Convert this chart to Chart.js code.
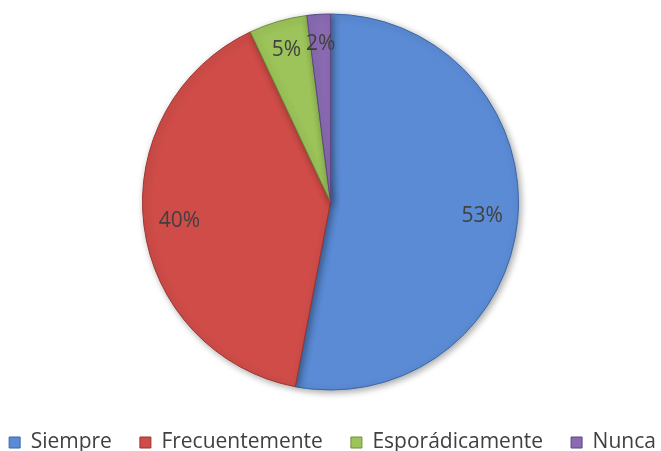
<!DOCTYPE html>
<html lang="es">
<head>
  <meta charset="UTF-8" />
  <title>Frecuencia</title>
  <script src="https://cdn.jsdelivr.net/npm/chart.js"></script>
  <style>
    html, body { margin: 0; padding: 0; background: #fff; }
    #wrap { width: 661px; height: 451px; }
  </style>
</head>
<body>
  <div id="wrap"><canvas id="pieChart"></canvas></div>

  <script>
    // chart data
    const categories = ['Siempre', 'Frecuentemente', 'Esporádicamente', 'Nunca'];
    const values = [53, 40, 5, 2];
    const sliceColors = ['#5b8bd5', '#cf4c48', '#9cc45a', '#8a6bb3'];
    const edgeColors = ['#3a67a6', '#9c3431', '#6e8f3a', '#5e4683'];

    // percentage labels inside slices
    const sliceLabels = {
      id: 'sliceLabels',
      afterDatasetsDraw(chart) {
        const ctx = chart.ctx;
        const meta = chart.getDatasetMeta(0);
        const total = values.reduce((a, b) => a + b, 0);
        ctx.save();
        ctx.font = '21px "Open Sans", sans-serif';
        ctx.fillStyle = '#404040';
        ctx.textAlign = 'center';
        ctx.textBaseline = 'middle';
        meta.data.forEach((arc, i) => {
          const mid = (arc.startAngle + arc.endAngle) / 2;
          const r = arc.outerRadius * (values[i] < 10 ? 0.84 : 0.81);
          const x = arc.x + Math.cos(mid) * r;
          const y = arc.y + Math.sin(mid) * r;
          ctx.fillText(Math.round(values[i] / total * 100) + '%', x, y);
        });
        ctx.restore();
      }
    };

    // soft drop shadow under the pie
    const pieShadow = {
      id: 'pieShadow',
      beforeDatasetsDraw(chart) {
        const ctx = chart.ctx;
        ctx.save();
        ctx.shadowColor = 'rgba(0,0,0,0.35)';
        ctx.shadowBlur = 7;
        ctx.shadowOffsetX = 2;
        ctx.shadowOffsetY = 2;
      },
      afterDatasetsDraw(chart) {
        chart.ctx.restore();
      }
    };

    new Chart(document.getElementById('pieChart'), {
      type: 'pie',
      data: {
        labels: categories,
        datasets: [{
          data: values,
          backgroundColor: sliceColors,
          borderColor: edgeColors,
          borderWidth: 1
        }]
      },
      options: {
        responsive: true,
        maintainAspectRatio: false,
        animation: false,
        radius: 188,
        // negative padding lets the one-row legend use the full width and sit low
        layout: { padding: { top: -4, bottom: -12, left: -19, right: -23 } },
        plugins: {
          tooltip: { enabled: false },
          legend: {
            position: 'bottom',
            labels: {
              boxWidth: 11,
              boxHeight: 11,
              padding: 28,
              color: '#404040',
              font: { family: '"Open Sans", sans-serif', size: 21 }
            }
          }
        }
      },
      plugins: [pieShadow, sliceLabels]
    });
  </script>
</body>
</html>
